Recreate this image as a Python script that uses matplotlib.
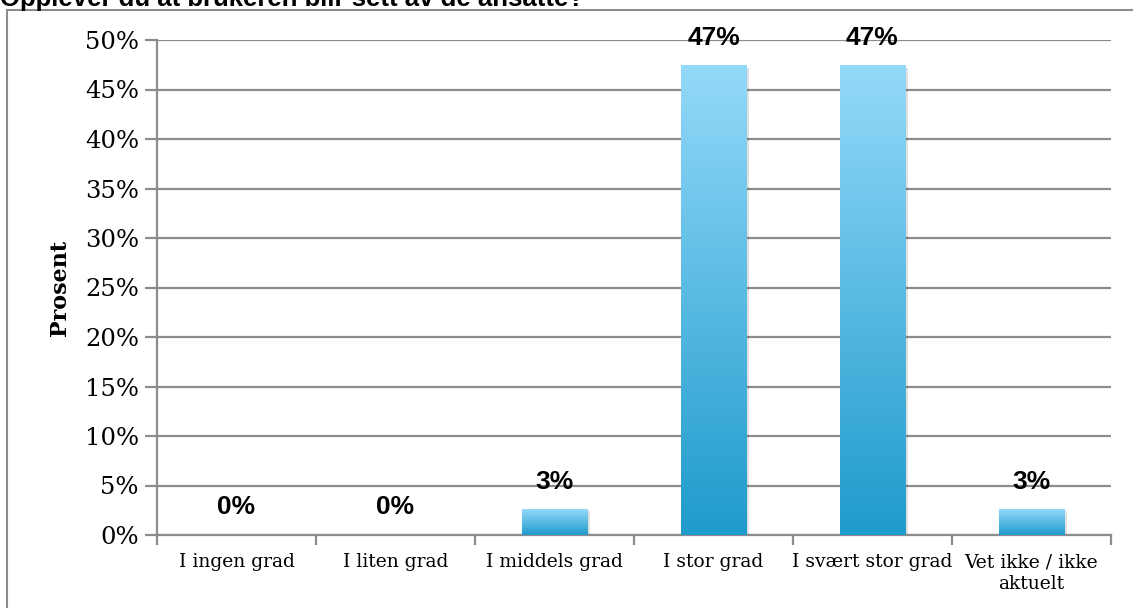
import matplotlib.pyplot as plt
import numpy as np
from matplotlib.colors import LinearSegmentedColormap
from matplotlib.patches import Rectangle

categories = ['I ingen grad', 'I liten grad', 'I middels grad', 'I stor grad',
              'I svært stor grad', 'Vet ikke / ikke\naktuelt']
values = [0.0, 0.0, 2.6, 47.4, 47.4, 2.6]
labels = ['0%', '0%', '3%', '47%', '47%', '3%']
yticks = [0, 5, 10, 15, 20, 25, 30, 35, 40, 45, 50]

title = 'Opplever du at brukeren blir sett av de ansatte?'

fig = plt.figure(figsize=(11.33, 6.08), dpi=100)

# outer chart frame, running off the right and bottom edges
fig.patches.append(Rectangle((7 / 1133, -0.1), 1.2, (608 - 10) / 608 + 0.1,
                             transform=fig.transFigure, fill=False,
                             edgecolor='#8c8c8c', linewidth=1.5))
fig.text(0.0, 1 - 6 / 608, title, fontsize=18.5, fontweight='bold',
         family='Liberation Sans', va='baseline', ha='left')

ax = fig.add_axes([157 / 1133, 1 - 535 / 608, (1111 - 157) / 1133, (535 - 40) / 608])

grey = '#8c8c8c'
for y in yticks:
    ax.axhline(y, color=grey, linewidth=1.6, zorder=1)

cmap = LinearSegmentedColormap.from_list('barfade', ['#1f9bcc', '#93d9f9'])
grad = np.linspace(0, 1, 256).reshape(-1, 1)
width = 0.41
for i, v in enumerate(values):
    if v > 0:
        # faint drop shadow behind the bar
        ax.add_patch(Rectangle((i - width / 2 + 0.02, -0.2), width, v,
                               facecolor='#000000', alpha=0.12, linewidth=0, zorder=2))
        ax.imshow(grad, cmap=cmap, origin='lower', aspect='auto',
                  extent=(i - width / 2, i + width / 2, 0, v), zorder=3)
    ax.text(i, v + 2.8, labels[i], ha='center', va='center', fontsize=19,
            fontweight='bold', family='Liberation Sans', zorder=4)

ax.set_xlim(-0.5, len(categories) - 0.5)
ax.set_ylim(0, 50)

for s in ['top', 'right']:
    ax.spines[s].set_visible(False)
for s in ['left', 'bottom']:
    ax.spines[s].set_color(grey)
    ax.spines[s].set_linewidth(1.6)

ax.set_yticks(yticks)
ax.set_yticklabels([f'{t}%' for t in yticks], family='DejaVu Serif', fontsize=17.5)
ax.tick_params(axis='y', length=9, width=1.6, color=grey, pad=4)

ax.set_xticks(np.arange(len(categories) + 1) - 0.5, minor=False)
ax.set_xticklabels([])
ax.tick_params(axis='x', length=7, width=1.6, color=grey)
ax.set_xticks(np.arange(len(categories)), minor=True)
ax.set_xticklabels(categories, minor=True, family='DejaVu Serif', fontsize=13.5,
                   linespacing=1.3, va='top')
ax.tick_params(axis='x', which='minor', length=0, pad=13)

ax.set_ylabel('Prosent', family='DejaVu Serif', fontweight='bold', fontsize=16,
              labelpad=10)

fig.savefig('out.png', dpi=100)
